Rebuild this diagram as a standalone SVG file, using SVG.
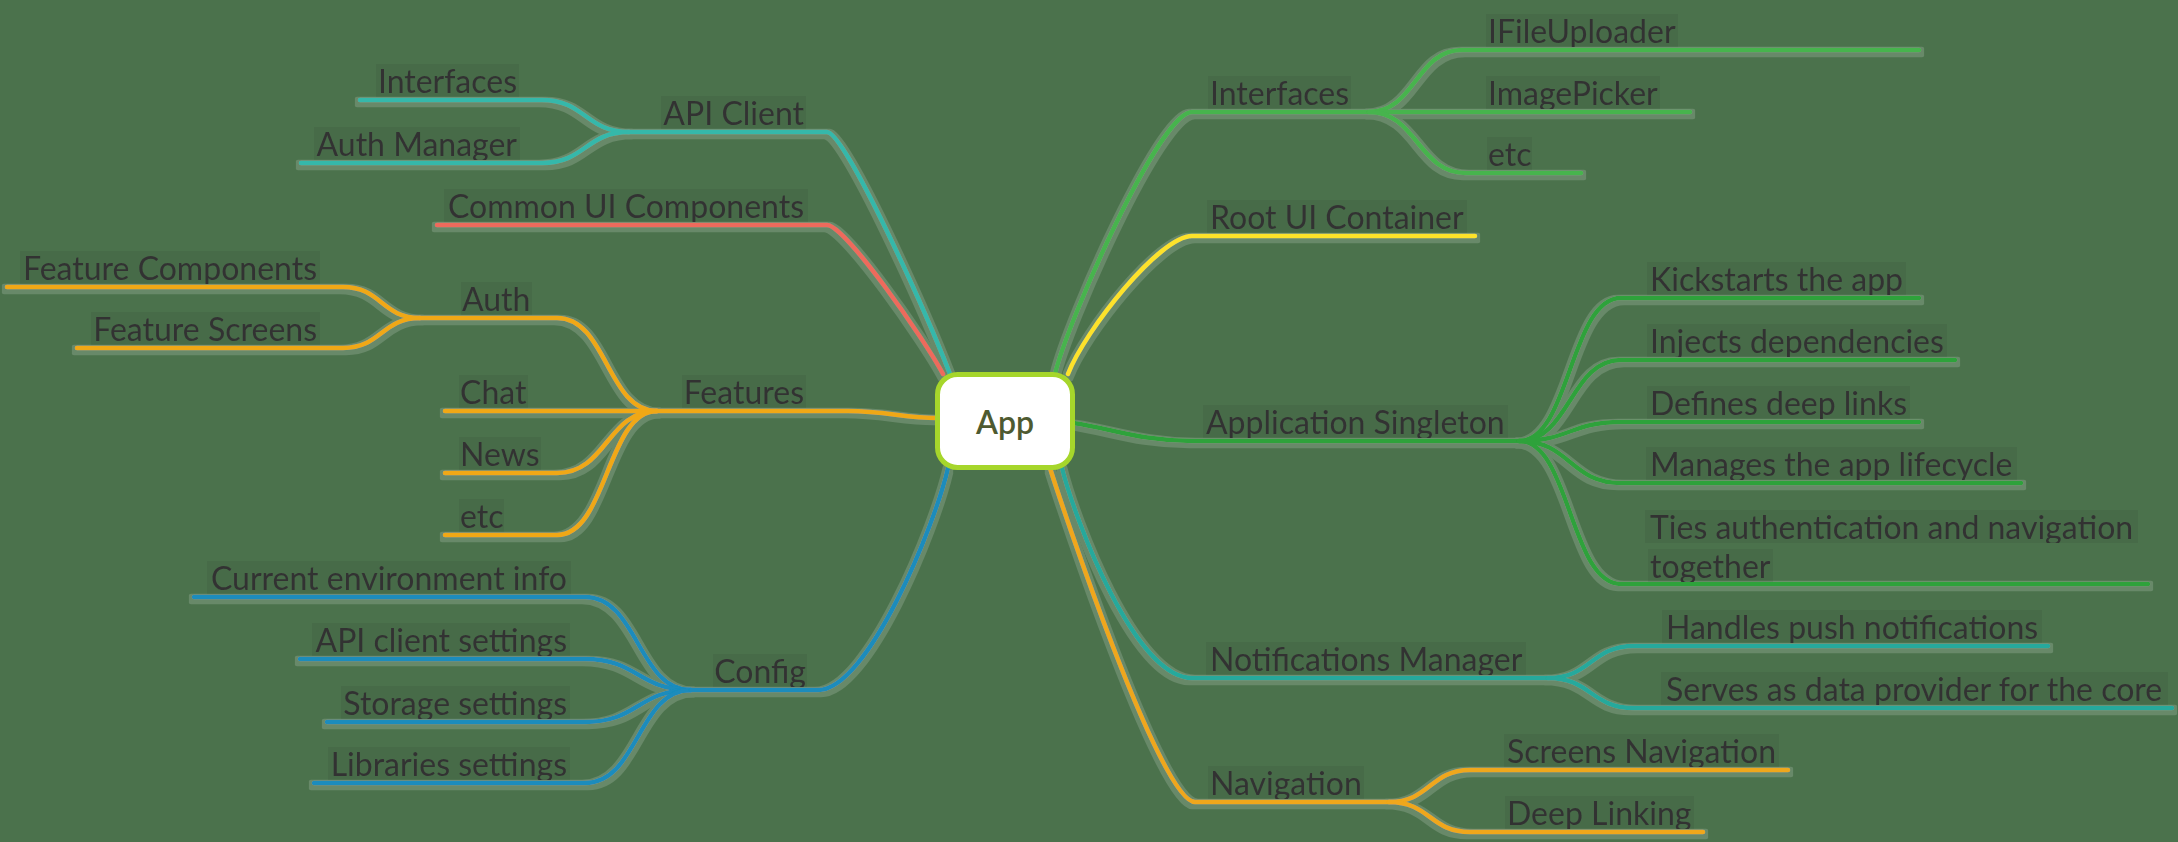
<svg xmlns="http://www.w3.org/2000/svg" width="2178" height="842" viewBox="0 0 2178 842">
<defs>
<style>
.t{font-family:Lato,"Open Sans","Liberation Sans",sans-serif;font-size:32px;fill:#333;filter:url(#tb)}
.e{text-anchor:end}
.c path{fill:none;stroke-width:4.5;stroke-linecap:round;stroke-linejoin:round}
.teal{stroke:#35b8aa}.red{stroke:#ee6b5b}.org{stroke:#f0a816}.blue{stroke:#1a8cbc}
.grn{stroke:#46b44d}.yel{stroke:#fde22c}.dgr{stroke:#2fa23b}.tl2{stroke:#25a99c}.org2{stroke:#efa71a}
</style>
<filter id="tb" x="-0.01" y="0.08" width="1.02" height="0.84">
<feFlood flood-color="#000" flood-opacity="0.06"/>
<feMerge><feMergeNode/><feMergeNode in="SourceGraphic"/></feMerge>
</filter>
<filter id="halo" x="-2%" y="-5%" width="104%" height="110%">
<feMorphology in="SourceAlpha" operator="dilate" radius="3" result="d"/>
<feFlood flood-color="#ffffff" flood-opacity="0.16"/>
<feComposite in2="d" operator="in" result="h"/>
<feOffset dy="2"/>
<feMerge><feMergeNode/><feMergeNode in="SourceGraphic"/></feMerge>
</filter>
</defs>
<rect width="2178" height="842" fill="#4b724c"/>
<g id="connectors" class="c" filter="url(#halo)">
<path class="teal" d="M360 100 H542 C585 100 586 132 629 132"/>
<path class="teal" d="M301 163 H542 C585 163 586 132 629 132"/>
<path class="teal" d="M629 132 H827 C845 132 925 310 950 374"/>
<path class="red" d="M437 225 H827 C845 225 925 340 943 374"/>
<path class="org" d="M7 287 H343 C381 287 382 318 420 318"/>
<path class="org" d="M77 348 H343 C381 348 382 318 420 318"/>
<path class="org" d="M420 318 H557 C607 318 607 411 657 411"/>
<path class="org" d="M445 411 H657"/>
<path class="org" d="M445 473 H557 C607 473 607 411 657 411"/>
<path class="org" d="M445 535 H557 C607 535 607 411 657 411"/>
<path class="org" d="M657 411 H848 C885 411 905 418 937 418"/>
<path class="blue" d="M194 597 H585 C638 597 638 690 691 690"/>
<path class="blue" d="M300 659 H585 C638 659 638 690 691 690"/>
<path class="blue" d="M327 722 H585 C638 722 638 690 691 690"/>
<path class="blue" d="M314 783 H585 C638 783 638 690 691 690"/>
<path class="blue" d="M691 690 H818 C868 690 935 525 948 468"/>
<path class="grn" d="M1055 374 C1068 320 1160 112 1192 112 H1369"/>
<path class="grn" d="M1369 112 C1415 112 1416 50 1462 50 H1919"/>
<path class="grn" d="M1369 112 H1690"/>
<path class="grn" d="M1369 112 C1417 112 1418 173 1466 173 H1581"/>
<path class="yel" d="M1068 374 C1085 330 1160 236 1192 236 H1475"/>
<path class="dgr" d="M1073 423 C1110 428 1140 441 1192 441 H1519"/>
<path class="dgr" d="M1519 441 C1570 441 1570 298 1621 298 H1919"/>
<path class="dgr" d="M1519 441 C1570 441 1570 360 1621 360 H1955"/>
<path class="dgr" d="M1519 441 C1570 441 1570 422 1621 422 H1919"/>
<path class="dgr" d="M1519 441 C1570 441 1570 483 1621 483 H2021"/>
<path class="dgr" d="M1519 441 C1570 441 1570 584 1621 584 H2148"/>
<path class="tl2" d="M1062 468 C1075 520 1135 678 1192 678 H1548"/>
<path class="tl2" d="M1548 678 C1591 678 1591 646 1634 646 H2048"/>
<path class="tl2" d="M1548 678 C1591 678 1591 708 1634 708 H2172"/>
<path class="org2" d="M1050 468 C1060 500 1160 802 1195 802 H1389"/>
<path class="org2" d="M1389 802 C1430 802 1430 770 1470 770 H1788"/>
<path class="org2" d="M1389 802 C1430 802 1430 832 1470 832 H1703"/>
</g>
<g id="app">
<rect x="937.5" y="374.5" width="135" height="93" rx="20" fill="#fff" stroke="#a6d62b" stroke-width="5"/>
<text x="1005" y="434" text-anchor="middle" style="font-family:Lato,'Open Sans','Liberation Sans',sans-serif;font-size:32px;font-weight:600;fill:#4e5a30">App</text>
</g>
<g id="n-api-client"><text class="t e" x="804" y="125">API Client</text></g>
<g id="n-interfaces-l"><text class="t e" x="517" y="93">Interfaces</text></g>
<g id="n-auth-manager"><text class="t e" x="517" y="156">Auth Manager</text></g>
<g id="n-common-ui"><text class="t e" x="804" y="218">Common UI Components</text></g>
<g id="n-features"><text class="t e" x="804" y="404">Features</text></g>
<g id="n-feature-components"><text class="t e" x="317" y="280">Feature Components</text></g>
<g id="n-feature-screens"><text class="t e" x="317" y="341">Feature Screens</text></g>
<g id="n-auth"><text class="t" x="462" y="311">Auth</text></g>
<g id="n-chat"><text class="t" x="460" y="404">Chat</text></g>
<g id="n-news"><text class="t" x="460" y="466">News</text></g>
<g id="n-etc-l"><text class="t" x="460" y="528">etc</text></g>
<g id="n-config"><text class="t e" x="806" y="683">Config</text></g>
<g id="n-env"><text class="t e" x="567" y="590">Current environment info</text></g>
<g id="n-api-settings"><text class="t e" x="567" y="652">API client settings</text></g>
<g id="n-storage"><text class="t e" x="567" y="715">Storage settings</text></g>
<g id="n-libraries"><text class="t e" x="567" y="776">Libraries settings</text></g>
<g id="n-interfaces-r"><text class="t" x="1210" y="105">Interfaces</text></g>
<g id="n-ifileuploader"><text class="t" x="1488" y="43">IFileUploader</text></g>
<g id="n-imagepicker"><text class="t" x="1488" y="105">ImagePicker</text></g>
<g id="n-etc-r"><text class="t" x="1488" y="166">etc</text></g>
<g id="n-root-ui"><text class="t" x="1210" y="229">Root UI Container</text></g>
<g id="n-app-singleton"><text class="t" x="1206" y="434">Application Singleton</text></g>
<g id="n-kickstarts"><text class="t" x="1650" y="291">Kickstarts the app</text></g>
<g id="n-injects"><text class="t" x="1650" y="353">Injects dependencies</text></g>
<g id="n-deeplinks"><text class="t" x="1650" y="415">Defines deep links</text></g>
<g id="n-lifecycle"><text class="t" x="1650" y="476">Manages the app lifecycle</text></g>
<g id="n-ties"><text class="t" x="1650" y="539">Ties authentication and navigation</text><text class="t" x="1650" y="578">together</text></g>
<g id="n-notifications"><text class="t" x="1210" y="671">Notifications Manager</text></g>
<g id="n-push"><text class="t" x="1666" y="639">Handles push notifications</text></g>
<g id="n-serves"><text class="t" x="1666" y="701">Serves as data provider for the core</text></g>
<g id="n-navigation"><text class="t" x="1210" y="795">Navigation</text></g>
<g id="n-screens-nav"><text class="t" x="1507" y="763">Screens Navigation</text></g>
<g id="n-deep-linking"><text class="t" x="1507" y="825">Deep Linking</text></g>
</svg>
